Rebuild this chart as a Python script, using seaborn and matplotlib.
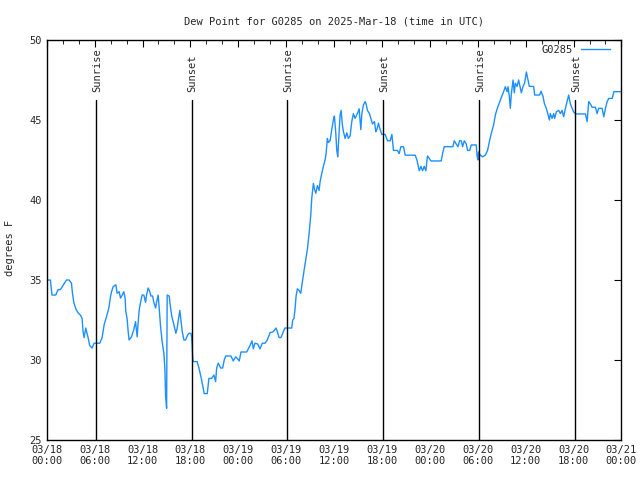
import matplotlib
matplotlib.use("Agg")
import matplotlib.pyplot as plt
import seaborn as sns
import pandas as pd

# hours since 2025-03-18 00:00 UTC
hours = [0.00, 0.46, 0.66, 1.13, 1.42, 1.72, 2.47, 2.80, 3.10, 3.22, 3.39, 3.64, 3.93, 4.23, 4.43,
         4.55, 4.68, 4.89, 5.18, 5.39, 5.68, 5.93, 6.65, 6.94, 7.19, 7.49, 7.78, 7.99, 8.12, 8.32,
         8.66, 8.82, 9.07, 9.25, 9.50, 9.66, 9.82, 9.91, 10.07, 10.20, 10.32, 10.62, 10.91, 11.13,
         11.33, 11.45, 11.58, 11.75, 11.95, 12.17, 12.38, 12.51, 12.71, 12.92, 13.05, 13.26, 13.42,
         13.64, 13.76, 13.96, 14.09, 14.26, 14.46, 14.68, 14.80, 14.89, 15.02, 15.09, 15.34, 15.52,
         15.68, 15.84, 16.02, 16.18, 16.35, 16.52, 16.68, 16.81, 16.97, 17.19, 17.40, 17.65, 17.85,
         18.06, 18.15, 18.23, 18.28, 18.35, 18.85, 19.07, 19.41, 19.73, 20.11, 20.32, 20.66, 20.95,
         21.16, 21.29, 21.49, 21.79, 22.04, 22.24, 22.42, 23.08, 23.37, 23.67, 23.87, 24.12, 24.34,
         25.05, 25.25, 25.46, 25.72, 25.88, 26.09, 26.43, 26.72, 27.01, 27.35, 27.63, 27.97, 28.39,
         28.73, 28.90, 29.10, 29.35, 29.64, 29.85, 30.70, 30.82, 30.98, 31.11, 31.24, 31.40, 31.61,
         31.82, 32.03, 32.24, 32.45, 32.65, 32.87, 33.08, 33.20, 33.41, 33.54, 33.71, 33.91, 34.12,
         34.25, 34.46, 34.66, 34.87, 35.00, 35.16, 35.29, 35.50, 35.71, 35.91, 36.04, 36.21, 36.34,
         36.46, 36.63, 36.75, 36.88, 37.04, 37.17, 37.38, 37.60, 37.79, 38.01, 38.22, 38.42, 38.63,
         38.92, 39.14, 39.35, 39.48, 39.68, 39.89, 40.01, 40.18, 40.43, 40.61, 40.81, 41.06, 41.23,
         41.36, 41.56, 41.77, 41.98, 42.40, 42.69, 43.03, 43.24, 43.44, 43.94, 44.16, 44.37, 44.70,
         44.91, 46.16, 46.38, 46.67, 46.88, 47.08, 47.29, 47.50, 47.70, 47.92, 48.13, 49.42, 49.59,
         49.80, 50.89, 51.05, 51.31, 51.52, 51.72, 51.93, 52.10, 52.31, 52.56, 52.72, 52.98, 53.19,
         53.81, 53.90, 54.03, 54.10, 54.32, 54.60, 54.94, 55.23, 55.48, 55.70, 55.99, 56.20, 56.41,
         56.61, 56.91, 57.24, 57.45, 57.67, 57.79, 57.95, 58.08, 58.20, 58.42, 58.58, 58.71, 58.92,
         59.12, 59.25, 59.46, 59.67, 59.87, 60.09, 60.25, 60.46, 61.00, 61.13, 61.75, 61.93, 62.18,
         62.34, 62.59, 62.76, 62.97, 63.09, 63.31, 63.51, 63.63, 63.85, 64.14, 64.35, 64.56, 64.76,
         64.98, 65.19, 65.39, 65.60, 65.82, 66.02, 66.23, 66.44, 67.49, 67.70, 67.90, 68.11, 68.32,
         68.74, 68.95, 69.15, 69.58, 69.79, 70.00, 70.21, 70.42, 70.85, 71.05, 71.88]

dew_point = [35.0, 35.0, 34.06, 34.06, 34.4, 34.4, 35.0, 35.0, 34.8, 34.2, 33.6, 33.2, 32.95, 32.8, 32.6,
             31.8, 31.4, 32.0, 31.4, 30.9, 30.75, 31.05, 31.05, 31.4, 32.2, 32.7, 33.25, 33.96, 34.27, 34.58,
             34.7, 34.17, 34.27, 33.87, 34.1, 34.27, 33.87, 33.0, 32.6, 31.8, 31.25, 31.45, 31.9, 32.4,
             31.45, 32.3, 33.1, 33.6, 34.06, 34.06, 33.6, 34.06, 34.5, 34.27, 34.0, 34.0, 33.6,
             33.25, 33.6, 34.06, 33.25, 32.1, 31.15, 30.4, 29.5, 27.8, 26.98, 34.06, 34.0, 33.25,
             32.7, 32.4, 32.0, 31.67, 32.0, 32.6, 33.1, 32.5, 31.8, 31.25, 31.25, 31.56, 31.67,
             31.67, 31.45, 30.8, 30.2, 29.9, 29.9, 29.5, 28.75, 27.9, 27.9, 28.85, 28.85, 29.06,
             28.65, 29.5, 29.8, 29.5, 29.5, 30.0, 30.25, 30.25, 29.94, 30.2, 30.1, 29.94, 30.5,
             30.5, 30.7, 30.9, 31.2, 30.7, 31.05, 31.0, 30.7, 31.05, 31.05, 31.25, 31.7, 31.77,
             32.0, 31.77, 31.4, 31.4, 31.77, 32.0, 32.0, 32.5, 32.6, 33.2, 34.0, 34.45, 34.35,
             34.17, 34.9, 35.6, 36.25, 36.9, 37.9, 39.06, 40.1, 41.04, 40.7, 40.42, 40.9, 40.6,
             41.15, 41.67, 42.1, 42.5, 42.9, 43.85, 43.6, 43.7, 44.4, 45.0, 45.25, 44.2, 43.1,
             42.7, 44.2, 45.3, 45.6, 44.7, 44.27, 43.85, 44.2, 43.85, 44.0, 44.9, 45.4, 45.1,
             45.4, 45.7, 44.4, 45.4, 45.94, 46.15, 46.0, 45.6, 45.4, 45.1, 44.75, 44.9, 44.27,
             44.4, 44.8, 44.4, 44.1, 44.1, 43.7, 43.7, 44.1, 43.1, 43.1, 42.9, 43.33, 43.33,
             42.8, 42.8, 42.5, 41.83, 42.1, 41.83, 42.1, 41.83, 42.75, 42.6, 42.44, 42.44, 42.9,
             43.33, 43.33, 43.7, 43.5, 43.33, 43.7, 43.7, 43.33, 43.7, 43.5, 43.1, 43.1, 43.44,
             43.44, 42.8, 42.5, 43.0, 42.8, 42.7, 42.8, 43.1, 43.7, 44.17, 44.7, 45.3, 45.67,
             45.94, 46.35, 46.77, 47.08, 46.77, 47.08, 46.5, 45.73, 46.6, 47.5, 46.7, 47.3, 47.1,
             47.5, 47.2, 46.7, 47.1, 47.3, 48.0, 47.6, 47.1, 47.1, 46.56, 46.56, 46.8, 46.46,
             46.04, 45.73, 45.42, 45.0, 45.4, 45.1, 45.4, 45.1, 45.52, 45.6, 45.4, 45.6, 45.2,
             45.73, 46.15, 46.56, 46.0, 45.73, 45.5, 45.4, 45.375, 45.375, 44.9, 46.15, 46.0, 45.8,
             45.8, 45.4, 45.73, 45.73, 45.2, 45.73, 46.15, 46.35, 46.35, 46.77, 46.77]

sun_hours = [6.17, 18.15, 30.13, 42.15, 54.17, 66.24]
sun_labels = ["Sunrise", "Sunset", "Sunrise", "Sunset", "Sunrise", "Sunset"]

tick_hours = [0, 6, 12, 18, 24, 30, 36, 42, 48, 54, 60, 66, 72]
tick_labels = ["03/18\n00:00", "03/18\n06:00", "03/18\n12:00", "03/18\n18:00",
               "03/19\n00:00", "03/19\n06:00", "03/19\n12:00", "03/19\n18:00",
               "03/20\n00:00", "03/20\n06:00", "03/20\n12:00", "03/20\n18:00",
               "03/21\n00:00"]
y_ticks = [25, 30, 35, 40, 45, 50]

sns.set_style("white")
plt.rcParams['font.family'] = ['DejaVu Sans Mono']
plt.rcParams['font.size'] = 7

df = pd.DataFrame({"hour": hours, "dew": dew_point})

fig = plt.figure(figsize=(6.4, 4.8), dpi=100)
ax = fig.add_axes([0.073, 0.0833, 0.898, 0.8334])

sns.lineplot(data=df, x="hour", y="dew", ax=ax, color="#1E8FFF", linewidth=1.0,
             label="G0285", estimator=None, sort=False)

for h, lab in zip(sun_hours, sun_labels):
    ax.axvline(h, ymin=0, ymax=0.85, color="black", linewidth=1.0)
    ax.text(h + 0.1, 0.869, lab, transform=ax.get_xaxis_transform(), rotation=90,
            ha="center", va="bottom", fontsize=7.5)

ax.set_xlim(0, 72)
ax.set_ylim(25, 50)
ax.set_xticks(tick_hours)
ax.set_xticklabels(tick_labels)
ax.set_xticks(range(0, 73, 2), minor=True)
ax.set_yticks(y_ticks)
ax.tick_params(axis="both", which="both", direction="in", top=True, right=True,
               labelsize=7.5, color="black")
ax.tick_params(which="major", length=5)
ax.tick_params(which="minor", length=3)
for s in ax.spines.values():
    s.set_color("black")
    s.set_linewidth(1.0)

ax.set_xlabel("")
ax.set_ylabel("degrees F", fontsize=7.5)
ax.yaxis.set_label_coords(-0.056, 0.48)
ax.set_title("Dew Point for G0285 on 2025-Mar-18 (time in UTC)", fontsize=7.5, pad=11.5)

leg = ax.legend(loc="upper right", frameon=False, markerfirst=False, fontsize=7.5,
                handlelength=2.8, handletextpad=0.8, borderaxespad=0, borderpad=0,
                bbox_to_anchor=(0.98, 0.9875))

fig.savefig("out.png", dpi=100)
